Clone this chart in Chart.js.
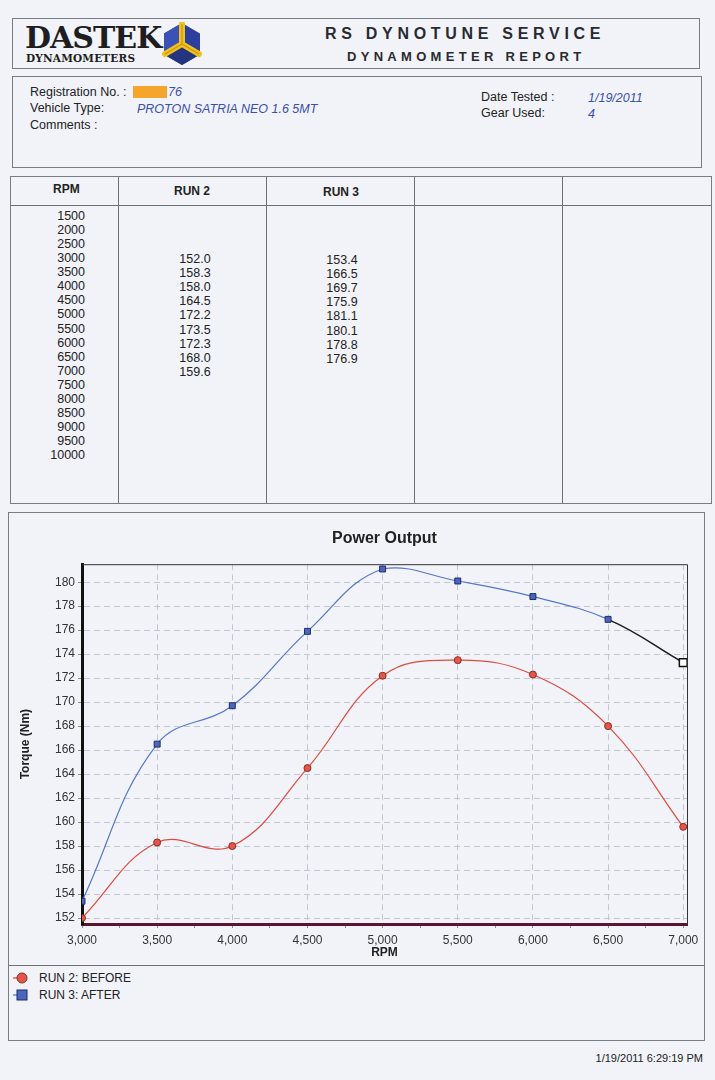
<!DOCTYPE html>
<html>
<head>
<meta charset="utf-8">
<title>Dynamometer Report</title>
<script src="https://cdn.jsdelivr.net/npm/chart.js@4.4.1/dist/chart.umd.min.js"></script>
<style>
  html, body {
    margin: 0;
    padding: 0;
  }
  body {
    width: 715px;
    height: 1080px;
    position: relative;
    overflow: hidden;
    background: #f1f3f9;
    font-family: "Liberation Sans", Arial, sans-serif;
    color: #222;
  }
  .box {
    position: absolute;
    border: 1px solid #7a7c84;
    box-sizing: border-box;
  }
  .t {
    position: absolute;
    white-space: nowrap;
    font-size: 12.5px;
    line-height: 14px;
  }
  .blue {
    color: #3b4fae;
    font-style: italic;
  }
  .col {
    position: absolute;
    top: 0;
    bottom: 0;
    border-left: 1px solid #6e7078;
  }
  .num {
    position: absolute;
    font-size: 12.5px;
    line-height: 14px;
    color: #222;
    white-space: nowrap;
  }
  #chartWrap {
    position: absolute;
    left: 8px;
    top: 515px;
    width: 697px;
    height: 448px;
  }
  .legend-item {
    position: absolute;
    left: 0;
    font-size: 12px;
    height: 16px;
    line-height: 16px;
    white-space: nowrap;
  }
  .legend-item .mk {
    display: inline-block;
    width: 22px;
    height: 16px;
    vertical-align: top;
    margin-right: 8px;
  }
</style>
</head>
<body>

<!-- header -->
<div class="box" style="left:12px;top:18px;width:688px;height:51px;">
  <div class="t" style="left:12px;top:3px;font-family:'DejaVu Serif',serif;font-size:30px;line-height:32px;font-weight:bold;color:#1e1e22;letter-spacing:-1px;">DASTEK</div>
  <div class="t" style="left:13px;top:32px;font-family:'DejaVu Serif',serif;font-size:10.5px;font-weight:bold;color:#1e1e22;letter-spacing:0.2px;">DYNAMOMETERS</div>
  <svg style="position:absolute;left:148px;top:3px;" width="42" height="44" viewBox="-21 -22 42 44">
    <polygon points="0,-21 18,-10.5 18,10.5 0,21 -18,10.5 -18,-10.5" fill="#2d3f9e"/>
    <polygon points="0,0 0,-21 -18,-10.5 -18,10.5" fill="#3a52b6"/>
    <polygon points="0,0 18,10.5 0,21 -18,10.5" fill="#24347f"/>
    <path d="M0,-20 L0,0 M0,0 L-17,10 M0,0 L17,10" stroke="#f2c21b" stroke-width="6" stroke-linecap="round"/>
    <path d="M0,-20 L0,0 M0,0 L-17,10 M0,0 L17,10" stroke="#c79812" stroke-width="1.2"/>
  </svg>
  <div class="t" style="left:312px;top:6px;font-size:16px;line-height:18px;font-weight:bold;letter-spacing:4.7px;color:#2a2a2e;">RS DYNOTUNE SERVICE</div>
  <div class="t" style="left:334px;top:30px;font-size:13px;line-height:16px;font-weight:bold;letter-spacing:4.3px;color:#2a2a2e;">DYNAMOMETER REPORT</div>
</div>

<!-- vehicle info -->
<div class="box" style="left:12px;top:76px;width:690px;height:92px;">
  <div class="t" style="left:17px;top:8px;">Registration No. :</div>
  <div style="position:absolute;left:120px;top:9px;width:34px;height:12px;background:#f5a42c;"></div>
  <div class="t blue" style="left:155px;top:8px;">76</div>
  <div class="t" style="left:17px;top:24px;">Vehicle Type:</div>
  <div class="t blue" style="left:124px;top:25px;">PROTON SATRIA NEO 1.6 5MT</div>
  <div class="t" style="left:17px;top:41px;">Comments :</div>
  <div class="t" style="left:468px;top:13px;">Date Tested :</div>
  <div class="t blue" style="left:575px;top:14px;">1/19/2011</div>
  <div class="t" style="left:468px;top:29px;">Gear Used:</div>
  <div class="t blue" style="left:575px;top:30px;">4</div>
</div>

<!-- data table -->
<div class="box" id="table" style="left:10px;top:176px;width:702px;height:328px;">
  <div style="position:absolute;left:0;right:0;top:28px;border-top:1px solid #6e7078;"></div>
  <div class="col" style="left:107px;"></div>
  <div class="col" style="left:255px;"></div>
  <div class="col" style="left:403px;"></div>
  <div class="col" style="left:551px;"></div>
  <div class="t" style="left:42px;top:5px;font-size:12px;font-weight:bold;">RPM</div>
  <div class="t" style="left:163px;top:7px;font-size:12px;font-weight:bold;">RUN 2</div>
  <div class="t" style="left:312px;top:8px;font-size:12px;font-weight:bold;">RUN 3</div>
</div>

<!-- chart -->
<div class="box" style="left:8px;top:512px;width:697px;height:529px;">
  <div style="position:absolute;left:0;right:0;top:452px;border-top:1px solid #6e7078;"></div>
  <div id="legend" style="position:absolute;left:0;top:457px;"></div>
</div>
<div id="chartWrap"><canvas id="torqueChart"></canvas></div>

<div class="t" style="right:12px;top:1051px;font-size:11px;">1/19/2011 6:29:19 PM</div>

<script>
const tableRpm = [1500, 2000, 2500, 3000, 3500, 4000, 4500, 5000, 5500,
  6000, 6500, 7000, 7500, 8000, 8500, 9000, 9500, 10000];
const chartRpm = [3000, 3500, 4000, 4500, 5000, 5500, 6000, 6500, 7000];
const run2Torque = [152.0, 158.3, 158.0, 164.5, 172.2, 173.5, 172.3, 168.0, 159.6];
// last point (7000) is only on the plot, not printed in the table
const run3Torque = [153.4, 166.5, 169.7, 175.9, 181.1, 180.1, 178.8, 176.9, 173.3];
const run3PrintedRows = 8;
const seriesLabels = ["RUN 2: BEFORE", "RUN 3: AFTER"];
const xTickValues = [3000, 3500, 4000, 4500, 5000, 5500, 6000, 6500, 7000];
const yTickValues = [152, 154, 156, 158, 160, 162, 164, 166, 168, 170, 172, 174,
  176, 178, 180];

const RED = "#df4a3e";
const BLUE = "#5577cc";
const GRID = "#c3c6d2";

// table rows
const table = document.getElementById("table");
const rowTop = 32;
const rowStep = 14.07;
const addCell = (text, left, top, align) => {
  const el = document.createElement("div");
  el.className = "num";
  el.textContent = text;
  el.style.top = top + "px";
  if (align === "right") {
    el.style.right = 702 - left + "px";
  } else {
    el.style.left = left - 20 + "px";
    el.style.width = "40px";
    el.style.textAlign = "center";
  }
  table.appendChild(el);
};
tableRpm.forEach((rpm, i) => {
  const top = rowTop + i * rowStep;
  addCell(String(rpm), 76, top, "right");
  const k = chartRpm.indexOf(rpm);
  if (k >= 0) {
    addCell(run2Torque[k].toFixed(1), 184, top + 1);
    if (k < run3PrintedRows) addCell(run3Torque[k].toFixed(1), 331, top + 2);
  }
});

// thin frame on top/right, and centre the title over the plot area
const frame = {
  id: "frame",
  afterLayout(chart) {
    if (chart.titleBlock) {
      chart.titleBlock.left = chart.chartArea.left;
      chart.titleBlock.right = chart.chartArea.right;
    }
  },
  beforeDatasetsDraw(chart) {
    const { ctx, chartArea: a } = chart;
    ctx.save();
    ctx.strokeStyle = "#333";
    ctx.lineWidth = 1;
    ctx.beginPath();
    ctx.moveTo(a.left, a.top + 0.5);
    ctx.lineTo(a.right + 0.5, a.top + 0.5);
    ctx.lineTo(a.right + 0.5, a.bottom);
    ctx.stroke();
    ctx.restore();
  },
};

const lastIdx = run3Torque.length - 1;

const chart = new Chart(document.getElementById("torqueChart"), {
  type: "line",
  data: {
    datasets: [
      {
        label: seriesLabels[0],
        data: chartRpm.map((r, i) => ({ x: r, y: run2Torque[i] })),
        borderColor: RED,
        borderWidth: 1.2,
        tension: 0.4,
        pointStyle: "circle",
        pointRadius: 3.5,
        pointBackgroundColor: "#e2574a",
        pointBorderColor: "#8d2a22",
        pointBorderWidth: 1,
      },
      {
        label: seriesLabels[1],
        data: chartRpm.map((r, i) => ({ x: r, y: run3Torque[i] })),
        borderColor: BLUE,
        borderWidth: 1.2,
        tension: 0.4,
        segment: {
          borderColor: (c) => (c.p1DataIndex === lastIdx ? "#1d1d24" : BLUE),
          borderWidth: (c) => (c.p1DataIndex === lastIdx ? 1.6 : 1.2),
        },
        pointStyle: "rect",
        pointRadius: run3Torque.map((v, i) => (i === lastIdx ? 5.5 : 4.2)),
        pointBackgroundColor: run3Torque.map((v, i) =>
          i === lastIdx ? "#ffffff" : "#4d66bd",
        ),
        pointBorderColor: run3Torque.map((v, i) =>
          i === lastIdx ? "#111111" : "#1f2c68",
        ),
        pointBorderWidth: run3Torque.map((v, i) => (i === lastIdx ? 1.5 : 1)),
      },
    ],
  },
  options: {
    responsive: true,
    maintainAspectRatio: false,
    animation: false,
    layout: { padding: { left: 0, right: 18, top: 0, bottom: 0 } },
    plugins: {
      legend: { display: false },
      tooltip: { enabled: false },
      title: {
        display: true,
        text: "Power Output",
        color: "#222",
        font: { family: "Liberation Sans", size: 16, weight: "bold" },
        padding: { top: 14, bottom: 16 },
      },
    },
    scales: {
      x: {
        type: "linear",
        min: 3000,
        max: 7025,
        afterBuildTicks: (scale) => {
          const ticks = [];
          xTickValues.forEach((v, i) => {
            ticks.push({ value: v });
            if (i < xTickValues.length - 1)
              ticks.push({ value: (v + xTickValues[i + 1]) / 2, minor: true });
          });
          scale.ticks = ticks;
        },
        afterFit: (scale) => {
          scale.height = 39;
        },
        ticks: {
          color: "#333",
          padding: 5,
          autoSkip: false,
          maxRotation: 0,
          font: { family: "Liberation Sans", size: 12 },
          callback: (v) => (xTickValues.includes(v) ? v.toLocaleString("en-US") : ""),
        },
        grid: {
          color: (c) =>
            c.tick && xTickValues.includes(c.tick.value) ? GRID : "transparent",
          tickColor: "#8a8c94",
          tickLength: 4,
        },
        border: { color: "#5a1630", width: 3, dash: [6, 4] },
        title: {
          display: true,
          text: "RPM",
          color: "#222",
          font: { family: "Liberation Sans", size: 12, weight: "bold" },
          padding: { top: 0, bottom: 3 },
        },
      },
      y: {
        min: 151.5,
        max: 181.5,
        afterBuildTicks: (scale) => {
          scale.ticks = yTickValues.map((v) => ({ value: v }));
        },
        afterFit: (scale) => {
          scale.width = 74;
        },
        ticks: {
          color: "#333",
          padding: 3,
          font: { family: "Liberation Sans", size: 12 },
        },
        grid: { color: GRID, tickColor: "#8a8c94", tickLength: 4 },
        border: { color: "#111", width: 3, dash: [6, 4] },
        title: {
          display: true,
          text: "Torque (Nm)",
          color: "#222",
          font: { family: "Liberation Sans", size: 12, weight: "bold" },
          padding: { top: 10, bottom: 0 },
        },
      },
    },
  },
  plugins: [frame],
});

// legend under the separator, built from the datasets
const legend = document.getElementById("legend");
chart.data.datasets.forEach((ds, i) => {
  const item = document.createElement("div");
  item.className = "legend-item";
  item.style.top = i * 17 + "px";
  const mk = document.createElement("span");
  mk.className = "mk";
  const isRect = ds.pointStyle === "rect";
  const fill = isRect ? "#4d66bd" : ds.pointBackgroundColor;
  const edge = isRect ? "#1f2c68" : ds.pointBorderColor;
  mk.innerHTML =
    '<svg width="22" height="16"><line x1="4" y1="8" x2="14" y2="8" stroke="' +
    (isRect ? BLUE : RED) + '" stroke-width="1.3"/>' +
    (isRect
      ? '<rect x="8" y="3" width="10" height="10" fill="' + fill + '" stroke="' + edge + '"/>'
      : '<circle cx="13" cy="8" r="5" fill="' + fill + '" stroke="' + edge + '"/>') +
    "</svg>";
  item.appendChild(mk);
  item.appendChild(document.createTextNode(ds.label));
  legend.appendChild(item);
});
</script>
</body>
</html>
